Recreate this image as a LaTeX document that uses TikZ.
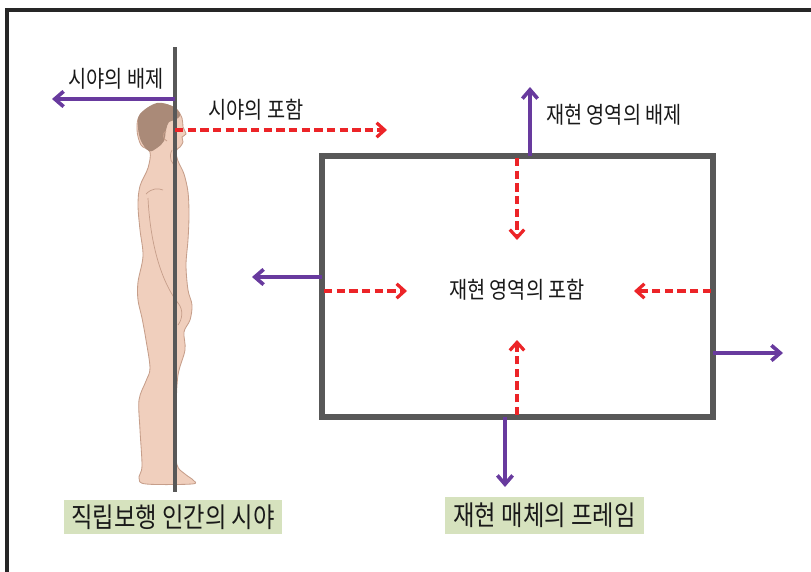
\documentclass[tikz,border=0pt]{standalone}
\usepackage{fontspec}
\usetikzlibrary{arrows.meta}
\newfontfamily\kr[FakeStretch=0.85]{Noto Sans CJK KR}
\definecolor{excl}{RGB}{104,58,158}
\definecolor{incl}{RGB}{236,36,40}
\definecolor{edge}{RGB}{88,88,88}
\definecolor{tag}{RGB}{214,226,190}
\definecolor{skin}{RGB}{240,207,189}
\definecolor{skinline}{RGB}{198,158,138}
\definecolor{hair}{RGB}{170,138,120}

\begin{document}
\begin{tikzpicture}[x=0.025cm,y=-0.025cm,
    pushout/.style={draw=excl,line width=2.6pt,-{Straight Barb[length=2.2mm,width=3.8mm]}},
    pullin/.style={draw=incl,line width=2.3pt,dash pattern=on 6pt off 3pt,-{Straight Barb[length=2mm,width=3.6mm]}},
    lbl/.style={inner sep=0pt,text=black!90,font=\kr\fontsize{16.5}{18}\selectfont},
    tagbox/.style={fill=tag,inner sep=0pt,text=black!90,font=\kr\fontsize{19.5}{22}\selectfont}]
\useasboundingbox (0,0) rectangle (811,572);
\draw[line width=2.2pt,black!85] (7,572) |- (811,10);

% standing figure
\draw[fill=skin,draw=skinline,line width=0.6pt] plot[smooth cycle,tension=0.55] coordinates {
  (158,104) (175,108) (182,118) (183,127) (186,134) (182,137) (183,142) (180,147)
  (176,151) (178,161) (184,174) (188,192) (189,215) (188,240) (186,265) (188,290)
  (192,305) (190,320) (184,332) (185,350) (178,375) (176,410) (176,440) (177,465)
  (185,474) (193,480) (192,484) (146,484) (139,478) (142,466) (140,430) (139,400)
  (146,381) (150,368) (146,340) (142,318) (138,300) (138,282) (143,256) (140,230)
  (138,205) (140,186) (148,168) (150,152) (141,145) (137,130) (140,115)};
\fill[hair] plot[smooth cycle,tension=0.6] coordinates {
  (140,114) (157,103) (174,107) (180,115) (175,120) (169,122) (166,130) (164,141)
  (157,148) (149,151) (141,141) (138,127)};
\draw[skinline,line width=0.6pt] (166,131) .. controls (162,133) and (163,140) .. (167,141);
\draw[skinline,line width=0.5pt] (146,194) .. controls (152,188) and (158,188) .. (163,190);
\draw[skinline,line width=0.5pt] (148,198) .. controls (150,240) and (160,280) .. (178,303);
\draw[skinline,line width=0.5pt] (178,303) .. controls (184,310) and (182,320) .. (178,325);
\draw[skinline,line width=0.5pt] (172,150) .. controls (168,158) and (172,164) .. (176,166);

% line of sight
\coordinate (crown) at (175,47);
\coordinate (sole) at (175,492);
\draw[edge,line width=2.3pt] (crown) -- (sole);
\coordinate (back) at (175,99);
\coordinate (backend) at (52,99);
\coordinate (eye) at (175,130);
\coordinate (eyeend) at (387,130);
\draw[pushout] (back) -- (backend);
\draw[pullin] (eye) -- (eyeend);
\node[lbl] (outsight) at (116,79) {시야의 배제};
\node[lbl] (insight) at (256,110) {시야의 포함};

% frame of the medium
\coordinate (ftl) at (322,156);
\coordinate (fbr) at (713,417);
\draw[edge,line width=4pt] (ftl) rectangle (fbr);

\coordinate (topout) at (530,156);
\coordinate (topoutend) at (530,87);
\coordinate (topin) at (517,158);
\coordinate (topinend) at (517,240);
\coordinate (leftout) at (322,277);
\coordinate (leftoutend) at (252,277);
\coordinate (leftin) at (324,291);
\coordinate (leftinend) at (407,291);
\coordinate (rightin) at (711,291);
\coordinate (rightinend) at (634,291);
\coordinate (rightout) at (713,353);
\coordinate (rightoutend) at (783,353);
\coordinate (botin) at (517,415);
\coordinate (botinend) at (517,340);
\coordinate (botout) at (505,417);
\coordinate (botoutend) at (505,487);

\draw[pushout] (topout) -- (topoutend);
\draw[pushout] (leftout) -- (leftoutend);
\draw[pushout] (rightout) -- (rightoutend);
\draw[pushout] (botout) -- (botoutend);
\draw[pullin] (topin) -- (topinend);
\draw[pullin] (leftin) -- (leftinend);
\draw[pullin] (rightin) -- (rightinend);
\draw[pullin] (botin) -- (botinend);

\node[lbl] (outframe) at (614,115) {재현 영역의 배제};
\node[lbl] (inframe) at (517,290) {재현 영역의 포함};

% captions
\node[tagbox,minimum width=5.45cm,minimum height=0.85cm] (human) at (173,517) {직립보행 인간의 시야};
\node[tagbox,minimum width=4.975cm,minimum height=0.925cm] (medium) at (544.5,515.5) {재현 매체의 프레임};
\end{tikzpicture}
\end{document}
